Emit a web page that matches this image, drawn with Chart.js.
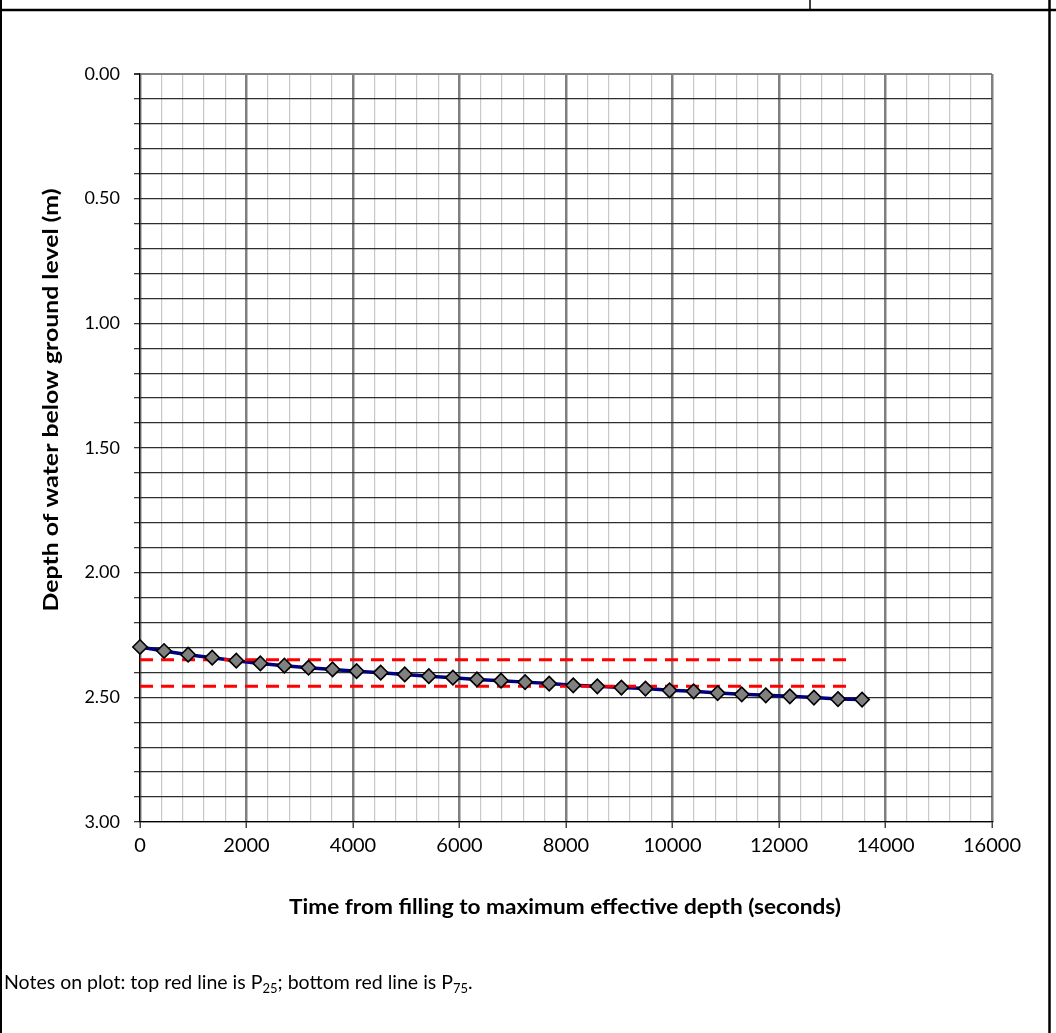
<!DOCTYPE html>
<html>
<head>
<meta charset="utf-8">
<script src="https://cdn.jsdelivr.net/npm/chart.js@4"></script>
<style>
  html, body { margin: 0; padding: 0; background: #fff; }
  #wrap { position: relative; width: 1056px; height: 1033px; overflow: hidden; }
  #c { position: absolute; left: 0; top: 0; }
  #notes { position: absolute; left: 4px; top: 970px; font: 19.5px Lato, "Open Sans", sans-serif; line-height: 1.2; color: #000; white-space: nowrap; }
  #notes sub { font-size: 13px; vertical-align: -4px; line-height: 0; }
</style>
</head>
<body>
<div id="wrap">
  <canvas id="c" width="1056" height="1033"></canvas>
  <div id="notes">Notes on plot: top red line is P<sub>25</sub>; bottom red line is P<sub>75</sub>.</div>
</div>
<script>
// ---- data ----
const timeSeconds = [0, 452, 904, 1356, 1808, 2260, 2712, 3164, 3616, 4068, 4520, 4972, 5424, 5876, 6328, 6780,
  7232, 7684, 8136, 8588, 9040, 9492, 9944, 10396, 10848, 11300, 11752, 12204, 12656, 13108, 13560];
const depthM = [2.298, 2.314, 2.329, 2.341, 2.353, 2.364, 2.373, 2.381, 2.388, 2.395, 2.401, 2.408, 2.415, 2.421, 2.428, 2.433,
  2.439, 2.445, 2.452, 2.456, 2.461, 2.465, 2.472, 2.476, 2.483, 2.488, 2.492, 2.496, 2.501, 2.507, 2.509];
const p25Depth = 2.349;
const p75Depth = 2.456;
const refLineTimes = [0, 13380];
const xTitle = 'Time from filling to maximum effective depth (seconds)';
const yTitle = 'Depth of water below ground level (m)';

const seriesPts = timeSeconds.map((t, i) => ({ x: t, y: depthM[i] }));
const p25Pts = refLineTimes.map(t => ({ x: t, y: p25Depth }));
const p75Pts = refLineTimes.map(t => ({ x: t, y: p75Depth }));

const isMult = (v, m) => Math.abs(v / m - Math.round(v / m)) < 1e-6;

function fitText(ctx, text, cx, cy, targetW) {
  const w = ctx.measureText(text).width;
  const k = targetW / w;
  ctx.save();
  ctx.translate(cx, cy);
  ctx.scale(k, 1);
  ctx.fillText(text, 0, 0);
  ctx.restore();
}

const framePlugin = {
  id: 'frame',
  afterDraw(chart) {
    const ctx = chart.ctx;
    ctx.save();
    ctx.strokeStyle = '#000';
    // header row bottom line
    ctx.lineWidth = 2.5;
    ctx.beginPath(); ctx.moveTo(0, 10); ctx.lineTo(1056, 10); ctx.stroke();
    // header divider
    ctx.lineWidth = 1.5;
    ctx.beginPath(); ctx.moveTo(810, 0); ctx.lineTo(810, 10); ctx.stroke();
    // outer borders
    ctx.lineWidth = 2;
    ctx.beginPath(); ctx.moveTo(1, 0); ctx.lineTo(1, 1033); ctx.stroke();
    ctx.lineWidth = 2.5;
    ctx.beginPath(); ctx.moveTo(1049.5, 0); ctx.lineTo(1049.5, 1033); ctx.stroke();

    // axis titles
    ctx.fillStyle = '#000';
    ctx.font = 'bold 20.5px Lato, "Open Sans", sans-serif';
    ctx.textAlign = 'center';
    ctx.textBaseline = 'alphabetic';
    fitText(ctx, xTitle, 565, 913.5, 552);
    ctx.save();
    ctx.translate(57.5, 400);
    ctx.rotate(-Math.PI / 2);
    fitText(ctx, yTitle, 0, 0, 423);
    ctx.restore();
    ctx.restore();
  }
};

new Chart(document.getElementById('c'), {
  type: 'line',
  data: {
    datasets: [
      { label: 'line', data: seriesPts, borderColor: '#000080', borderWidth: 3.5, pointRadius: 0, tension: 0, order: 4, clip: false },
      { label: 'P25', data: p25Pts, borderColor: '#ff0000', borderWidth: 3, borderDash: [13, 8], pointRadius: 0, order: 3 },
      { label: 'P75', data: p75Pts, borderColor: '#ff0000', borderWidth: 3, borderDash: [13, 8], pointRadius: 0, order: 2 },
      { label: 'points', data: seriesPts, showLine: false, pointStyle: 'rectRot', pointRadius: 7.2,
        pointBackgroundColor: '#808080', pointBorderColor: '#000', pointBorderWidth: 1.6, order: 1, clip: false }
    ]
  },
  options: {
    responsive: false,
    animation: false,
    devicePixelRatio: 1,
    layout: { padding: { left: 0, top: 74, right: 64, bottom: 0 } },
    plugins: { legend: { display: false }, tooltip: { enabled: false } },
    scales: {
      x: {
        type: 'linear', min: 0, max: 16000,
        afterFit(s) { s.height = 211; },
        border: { display: true, color: '#000', width: 1.2 },
        grid: {
          color: c => isMult(c.tick.value, 2000) ? '#808080' : '#c8c8c8',
          lineWidth: c => isMult(c.tick.value, 2000) ? 2.5 : 1.2,
          tickColor: c => isMult(c.tick.value, 2000) ? '#444' : 'rgba(0,0,0,0)',
          tickLength: 6, tickWidth: 1.5
        },
        ticks: {
          stepSize: 400, autoSkip: false, maxTicksLimit: 100, maxRotation: 0, padding: 6,
          color: '#000', font: { family: 'Lato, "Open Sans", sans-serif', size: 20 },
          callback: v => isMult(v, 2000) ? String(v) : ''
        }
      },
      y: {
        type: 'linear', min: 0, max: 3, reverse: true,
        afterFit(s) { s.width = 140; },
        border: { display: true, color: '#000', width: 1.2 },
        grid: {
          color: c => c.tick.value === 0 ? '#808080' : '#2e2e2e',
          lineWidth: c => c.tick.value === 0 ? 2 : 1.3,
          tickColor: '#3a3a3a', tickLength: 6
        },
        ticks: {
          stepSize: 0.1, autoSkip: false, maxTicksLimit: 100, padding: 14,
          color: '#000', font: { family: 'Lato, "Open Sans", sans-serif', size: 18 },
          callback: v => isMult(v, 0.5) ? v.toFixed(2) : ''
        }
      }
    }
  },
  plugins: [framePlugin]
});
</script>
</body>
</html>
